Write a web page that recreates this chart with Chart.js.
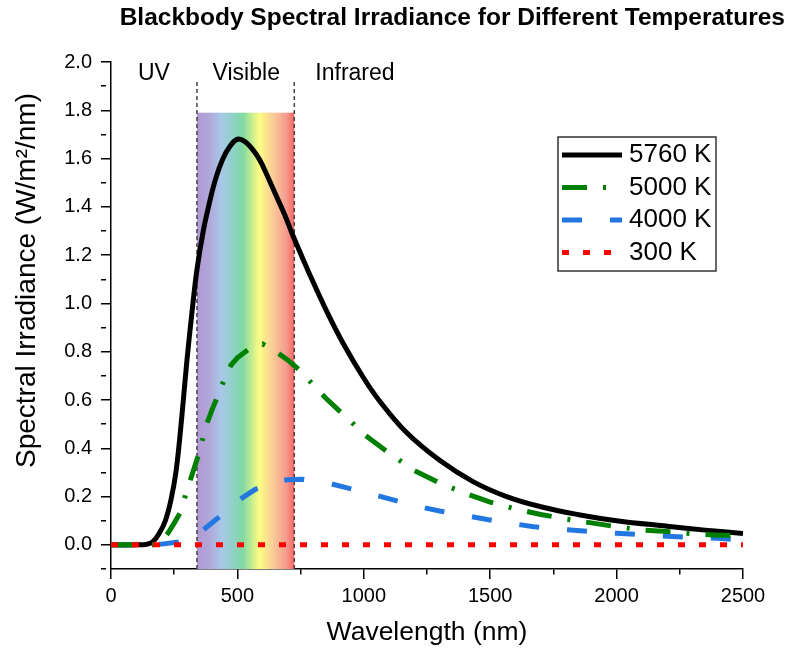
<!DOCTYPE html>
<html>
<head>
<meta charset="utf-8">
<script src="https://cdn.jsdelivr.net/npm/chart.js@4.4.1/dist/chart.umd.min.js"></script>
<style>
  html, body { margin:0; padding:0; background:#fff; }
  #wrap { width:790px; height:650px; }
</style>
</head>
<body>
<div id="wrap"><canvas id="bbChart" width="790" height="650"></canvas></div>
<script>
// values (wavelength in nm, irradiance in W/m2/nm)
const wl5760  = [0, 100, 140, 165, 192, 215, 238, 258, 280, 300, 320, 340, 365, 390, 415, 443, 470, 500, 530, 560, 588, 620, 654, 690, 720, 786, 852, 918, 1000, 1063, 1169, 1300, 1432, 1565, 1700, 1850, 2000, 2200, 2350, 2500];
const irr5760 = [0, 0, 0.002, 0.012, 0.05, 0.10, 0.19, 0.31, 0.53, 0.76, 0.96, 1.14, 1.30, 1.42, 1.52, 1.60, 1.65, 1.68, 1.67, 1.638, 1.595, 1.525, 1.445, 1.36, 1.28, 1.12, 0.97, 0.835, 0.69, 0.595, 0.465, 0.35, 0.262, 0.2, 0.158, 0.125, 0.10, 0.077, 0.061, 0.047];

const wl5000  = [0, 175, 200, 225, 250, 275, 300, 325, 350, 375, 400, 425, 450, 475, 500, 550, 600, 650, 700, 750, 800, 850, 900, 950, 1000, 1100, 1200, 1300, 1400, 1500, 1600, 1700, 1800, 1900, 2000, 2100, 2200, 2300, 2400, 2500];
const irr5000 = [0, 0, 0.012, 0.048, 0.09, 0.135, 0.225, 0.305, 0.385, 0.49, 0.56, 0.625, 0.69, 0.745, 0.775, 0.815, 0.832, 0.802, 0.765, 0.72, 0.662, 0.607, 0.558, 0.51, 0.458, 0.38, 0.308, 0.256, 0.214, 0.177, 0.149, 0.126, 0.107, 0.091, 0.075, 0.062, 0.055, 0.046, 0.04, 0.04];

const wl4000  = [0, 150, 200, 271, 300, 357, 419, 502, 571, 650, 700, 755, 862, 938, 1043, 1116, 1225, 1300, 1410, 1488, 1595, 1672, 1800, 1900, 2000, 2100, 2200, 2300, 2400, 2500];
const irr4000 = [0, 0, 0.003, 0.012, 0.025, 0.055, 0.108, 0.183, 0.23, 0.262, 0.27, 0.272, 0.255, 0.235, 0.207, 0.186, 0.157, 0.14, 0.12, 0.105, 0.087, 0.075, 0.063, 0.055, 0.048, 0.042, 0.036, 0.031, 0.027, 0.02];

const wl300  = [0, 500, 1000, 1500, 2000, 2500];
const irr300 = [0, 0, 0, 0, 0, 0];

const seriesLabels = ['5760 K', '5000 K', '4000 K', '300 K'];

// visible region and the region names above the plot
const visibleRange = [340, 725];
const bandTop = 1.79;
const boundaryTop = 1.93;
const regionNames = ['UV', 'Visible', 'Infrared'];
const regionAt = [170, 535, 965];
const regionLevel = 1.95;

const yTitleText = 'Spectral Irradiance (W/m²/nm)';
const yTitleAt = 1.095;

const FONT = "Arial, 'Liberation Sans', sans-serif";
const bandStops = [
  [0.00, '#b198d2'], [0.12, '#b0a6d8'], [0.25, '#a8c8e8'], [0.38, '#8ed2c4'],
  [0.47, '#80d8a2'], [0.64, '#fdfd84'], [0.78, '#f9cc98'], [0.92, '#f59a8e'], [1.00, '#f56464']
];

const toXY = (xs, ys) => xs.map((v, i) => ({x: v, y: ys[i]}));

const spectrumBand = {
  id: 'spectrumBand',
  beforeDatasetsDraw(chart) {
    const {ctx, scales: {x, y}} = chart;
    const x0 = x.getPixelForValue(visibleRange[0]);
    const x1 = x.getPixelForValue(visibleRange[1]);
    const yTop = y.getPixelForValue(bandTop);
    const yBot = y.getPixelForValue(y.min);
    const g = ctx.createLinearGradient(x0, 0, x1, 0);
    bandStops.forEach(([p, c]) => g.addColorStop(p, c));
    ctx.save();
    ctx.fillStyle = g;
    ctx.fillRect(x0, yTop, x1 - x0, yBot - yTop);

    ctx.strokeStyle = '#444';
    ctx.lineWidth = 1.5;
    ctx.setLineDash([4, 3]);
    const yLine = y.getPixelForValue(boundaryTop);
    visibleRange.forEach(v => {
      const px = x.getPixelForValue(v);
      ctx.beginPath();
      ctx.moveTo(px, yBot);
      ctx.lineTo(px, yLine);
      ctx.stroke();
    });

    ctx.setLineDash([]);
    ctx.fillStyle = '#000';
    ctx.font = '23px ' + FONT;
    ctx.textAlign = 'center';
    ctx.textBaseline = 'middle';
    regionNames.forEach((t, i) => {
      ctx.fillText(t, x.getPixelForValue(regionAt[i]), y.getPixelForValue(regionLevel));
    });
    ctx.restore();
  }
};

// y axis title sits a little above the axis centre in the reference
const yTitle = {
  id: 'yTitle',
  afterDraw(chart) {
    const {ctx, scales: {y}} = chart;
    ctx.save();
    ctx.translate(27, y.getPixelForValue(yTitleAt));
    ctx.rotate(-Math.PI / 2);
    ctx.font = '28px ' + FONT;
    ctx.fillStyle = '#000';
    ctx.textAlign = 'center';
    ctx.textBaseline = 'middle';
    ctx.fillText(yTitleText, 0, 0);
    ctx.restore();
  }
};

const boxLegend = {
  id: 'boxLegend',
  afterDraw(chart) {
    const {ctx, chartArea} = chart;
    const left = chartArea.right - 185, top = chartArea.top + 75;
    ctx.save();
    ctx.strokeStyle = '#333';
    ctx.lineWidth = 1.5;
    ctx.setLineDash([]);
    ctx.strokeRect(left, top, 158, 134);
    ctx.font = '26px ' + FONT;
    ctx.textBaseline = 'middle';
    ctx.textAlign = 'left';
    chart.data.datasets.forEach((ds, i) => {
      const yy = top + 18 + i * 32.5;
      ctx.beginPath();
      ctx.strokeStyle = ds.borderColor;
      ctx.lineWidth = ds.borderWidth;
      ctx.setLineDash(ds.borderDash || []);
      ctx.moveTo(left + 4, yy);
      ctx.lineTo(left + 64, yy);
      ctx.stroke();
      ctx.setLineDash([]);
      ctx.fillStyle = '#000';
      ctx.fillText(ds.label, left + 71, yy);
    });
    ctx.restore();
  }
};

const isMajorY = v => { const r = Math.round(v * 10); return r >= 0 && r % 2 === 0; };
const isMajorX = v => Math.round(v) % 500 === 0;

new Chart(document.getElementById('bbChart'), {
  type: 'line',
  data: {
    datasets: [
      { label: seriesLabels[0], data: toXY(wl5760, irr5760), borderColor: '#000000', borderWidth: 5,
        tension: 0.4, pointRadius: 0, borderJoinStyle: 'round', order: 4 },
      { label: seriesLabels[1], data: toXY(wl5000, irr5000), borderColor: '#008000', borderWidth: 5,
        borderDash: [25, 16, 3, 16], tension: 0, pointRadius: 0, order: 2 },
      { label: seriesLabels[2], data: toXY(wl4000, irr4000), borderColor: '#2278e0', borderWidth: 5,
        borderDash: [20, 28], tension: 0, pointRadius: 0, order: 3 },
      { label: seriesLabels[3], data: toXY(wl300, irr300), borderColor: '#ff0000', borderWidth: 5,
        borderDash: [7, 14], tension: 0, pointRadius: 0, order: 1 }
    ]
  },
  options: {
    responsive: false,
    animation: false,
    events: [],
    layout: { padding: { top: 0, left: 0, right: 5, bottom: 0 } },
    plugins: {
      legend: { display: false },
      tooltip: { enabled: false },
      title: {
        display: true, align: 'end', color: '#000',
        text: 'Blackbody Spectral Irradiance for Different Temperatures',
        font: { family: FONT, size: 24.5, weight: 'bold', lineHeight: 1.2 },
        padding: { top: 4, bottom: 28.6 }
      }
    },
    scales: {
      x: {
        type: 'linear', min: 0, max: 2500,
        afterFit: s => { s.height = 81; s.paddingRight = 47; },
        border: { color: '#000', width: 1.5 },
        grid: { drawOnChartArea: false, tickLength: 10, tickColor: '#000', lineWidth: 1.5,
                tickBorderDash: c => isMajorX(c.tick.value) ? [] : [5, 100] },
        ticks: { stepSize: 250, autoSkip: false, maxRotation: 0, padding: 5, color: '#000',
                 font: { family: FONT, size: 20 },
                 callback: v => isMajorX(v) ? String(v) : '' },
        title: { display: true, text: 'Wavelength (nm)', color: '#000',
                 font: { family: FONT, size: 26.5, lineHeight: 1 }, padding: { top: 0, bottom: 4 } }
      },
      y: {
        min: -0.1, max: 2.0,
        afterFit: s => { s.width = 111; },
        border: { color: '#000', width: 1.5 },
        grid: { drawOnChartArea: false, tickLength: 10, tickColor: '#000', lineWidth: 1.5,
                tickBorderDash: c => isMajorY(c.tick.value) ? [] : [5, 100] },
        ticks: { stepSize: 0.1, autoSkip: false, padding: 9, color: '#000',
                 font: { family: FONT, size: 20 },
                 callback: v => isMajorY(v) ? (Math.round(v * 10) / 10).toFixed(1) : '' },
        title: { display: false }
      }
    }
  },
  plugins: [spectrumBand, yTitle, boxLegend]
});
</script>
</body>
</html>
